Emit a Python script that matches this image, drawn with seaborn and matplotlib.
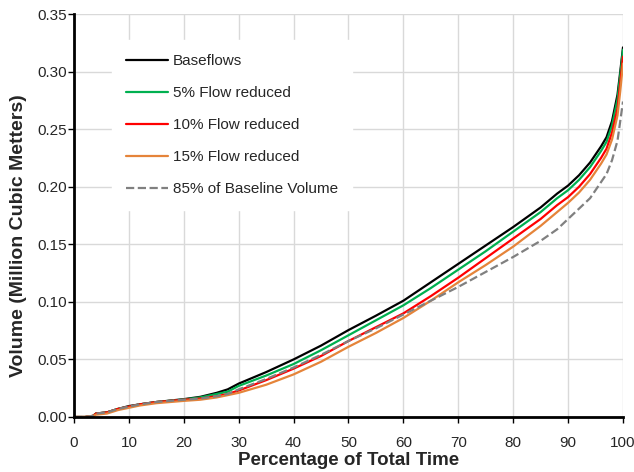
import matplotlib
matplotlib.use("Agg")
import matplotlib.pyplot as plt
import seaborn as sns
import pandas as pd

# percentage of total time (x) and volume series (million m3)
pct_time = [0, 2, 3.5, 4, 6, 8, 10, 12, 15, 20, 23, 26, 28, 30, 35, 40, 45, 50, 55, 60,
            65, 70, 75, 80, 85, 88, 90, 92, 94, 95, 96, 97, 98, 99, 99.5, 100]

baseflows = [0, 0, 0.001, 0.003, 0.004, 0.007, 0.0095, 0.011, 0.013, 0.0155, 0.0175, 0.021,
             0.024, 0.029, 0.039, 0.050, 0.062, 0.0755, 0.088, 0.101, 0.117, 0.133, 0.149,
             0.165, 0.182, 0.194, 0.201, 0.210, 0.221, 0.228, 0.235, 0.243, 0.257, 0.280,
             0.300, 0.321]
flow_5 = [0, 0, 0.001, 0.003, 0.004, 0.007, 0.009, 0.011, 0.013, 0.0152, 0.017, 0.020,
          0.022, 0.027, 0.036, 0.046, 0.058, 0.071, 0.084, 0.097, 0.112, 0.128, 0.144,
          0.161, 0.178, 0.190, 0.197, 0.206, 0.217, 0.224, 0.231, 0.239, 0.253, 0.276,
          0.297, 0.319]
flow_10 = [0, 0, 0.001, 0.003, 0.004, 0.007, 0.009, 0.011, 0.013, 0.015, 0.016, 0.018,
           0.020, 0.023, 0.032, 0.042, 0.053, 0.066, 0.078, 0.090, 0.105, 0.121, 0.138,
           0.155, 0.172, 0.184, 0.191, 0.200, 0.211, 0.218, 0.225, 0.233, 0.247, 0.268,
           0.290, 0.313]
flow_15 = [0, 0, 0.001, 0.002, 0.003, 0.006, 0.008, 0.010, 0.012, 0.014, 0.015, 0.017,
           0.019, 0.021, 0.028, 0.037, 0.048, 0.061, 0.073, 0.086, 0.101, 0.117, 0.132,
           0.148, 0.166, 0.178, 0.186, 0.195, 0.206, 0.213, 0.220, 0.228, 0.241, 0.262,
           0.283, 0.307]
baseline_85 = [0, 0, 0.001, 0.003, 0.004, 0.007, 0.009, 0.011, 0.013, 0.015, 0.016, 0.018,
               0.020, 0.024, 0.033, 0.043, 0.054, 0.066, 0.077, 0.089, 0.101, 0.113, 0.126,
               0.139, 0.153, 0.163, 0.172, 0.181, 0.190, 0.197, 0.204, 0.211, 0.223, 0.240,
               0.257, 0.274]

series_names = ["Baseflows", "5% Flow reduced", "10% Flow reduced", "15% Flow reduced",
                "85% of Baseline Volume"]
series_values = [baseflows, flow_5, flow_10, flow_15, baseline_85]
series_colors = ["#000000", "#00b050", "#ff0000", "#e5843a", "#808080"]

sns.set_style("white")
plt.rcParams['font.family'] = ['Liberation Sans', 'DejaVu Sans']

fig = plt.figure(figsize=(6.34, 4.72), dpi=100)
ax = fig.add_axes([74 / 634, 1 - 417 / 472, 549 / 634, 403 / 472])

for name, vals, col in zip(series_names, series_values, series_colors):
    df = pd.DataFrame({"x": pct_time, "y": vals})
    ls = "--" if name.startswith("85%") else "-"
    sns.lineplot(data=df, x="x", y="y", ax=ax, color=col, linewidth=1.6,
                 linestyle=ls, label=name)

ax.set_xlim(0, 100)
ax.set_ylim(0, 0.35)
ax.set_xticks(range(0, 101, 10))
ax.set_yticks([i * 0.05 for i in range(8)])
ax.set_yticklabels([f"{i * 0.05:.2f}" for i in range(8)])
ax.grid(True, color="#d9d9d9", linewidth=1)
ax.set_axisbelow(True)

for s in ["top", "right"]:
    ax.spines[s].set_visible(False)
for s in ["left", "bottom"]:
    ax.spines[s].set_color("black")
    ax.spines[s].set_linewidth(2)

ax.tick_params(axis="both", direction="out", length=4, width=1, color="black",
               labelsize=11, bottom=True, left=True)
ax.tick_params(axis="x", pad=10)
ax.tick_params(axis="y", pad=1)
ax.set_xlabel("Percentage of Total Time", fontsize=13.5, fontweight="bold", labelpad=1)
ax.set_ylabel("Volume (Million Cubic Metters)", fontsize=14, fontweight="bold")
ax.yaxis.set_label_coords(-0.086, 0.449)

leg = ax.legend(loc="upper left", bbox_to_anchor=(0.069, 0.935), borderaxespad=0,
                frameon=True, fancybox=False, framealpha=1, edgecolor="white",
                facecolor="white", fontsize=11, handlelength=2.8, labelspacing=1.18,
                handletextpad=0.3, borderpad=0.9)

fig.savefig("out.png", dpi=100)
